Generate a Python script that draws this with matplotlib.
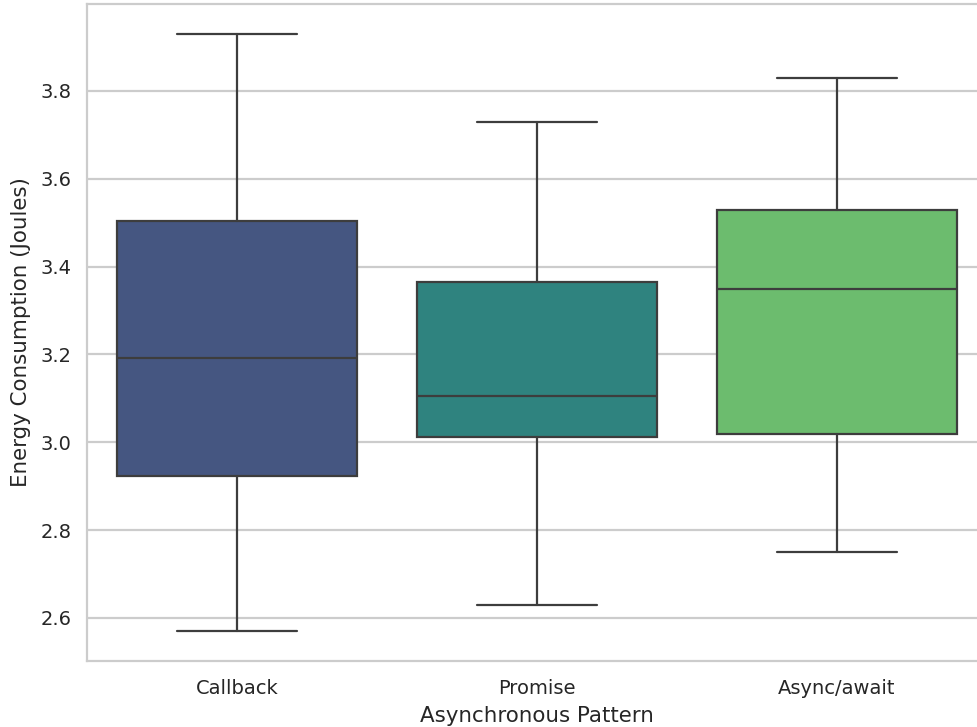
import matplotlib
matplotlib.use("Agg")
import matplotlib.pyplot as plt
import seaborn as sns

# Box statistics
patterns = ["Callback", "Promise", "Async/await"]
whisker_low = [2.57, 2.63, 2.75]
q1 = [2.923, 3.011, 3.02]
median = [3.191, 3.105, 3.35]
q3 = [3.505, 3.366, 3.528]
whisker_high = [3.93, 3.73, 3.83]

sns.set_theme(style="whitegrid")
plt.rcParams["font.family"] = ["DejaVu Sans"]

colors = [sns.desaturate(c, 0.75) for c in sns.color_palette("viridis", 3)]

stats = []
for name, lo, a, m, b, hi in zip(patterns, whisker_low, q1, median, q3, whisker_high):
    stats.append({"label": name, "whislo": lo, "q1": a, "med": m,
                  "q3": b, "whishi": hi, "fliers": []})

fig = plt.figure(figsize=(9.78, 7.27), dpi=100)
# right edge runs a little past the figure, as in the cropped reference
ax = fig.add_axes([0.089, 0.0908, 0.9202, 0.9037])

line_kw = dict(color="#3d3d3d", linewidth=1.6)
bp = ax.bxp(stats, positions=range(3), widths=0.8, patch_artist=True,
            showfliers=False, boxprops=dict(edgecolor="#3d3d3d", linewidth=1.6),
            medianprops=line_kw, whiskerprops=line_kw, capprops=line_kw,
            capwidths=0.4)
for patch, c in zip(bp["boxes"], colors):
    patch.set_facecolor(c)

ax.set_xlim(-0.5, 2.5)
ax.set_yticks([2.6, 2.8, 3.0, 3.2, 3.4, 3.6, 3.8])
ax.tick_params(axis="x", labelsize=14, colors="#262626", pad=7)
ax.tick_params(axis="y", labelsize=14, colors="#262626", pad=5)
ax.set_xlabel("Asynchronous Pattern", fontsize=15.4, color="#262626", labelpad=6)
ax.set_ylabel("Energy Consumption (Joules)", fontsize=15.4, color="#262626", labelpad=7)
ax.grid(axis="x", visible=False)
ax.grid(axis="y", color="#cccccc", linewidth=1.6)
ax.set_axisbelow(True)
for s in ax.spines.values():
    s.set_color("#cccccc")
    s.set_linewidth(1.6)

fig.savefig("out.png", dpi=100)
